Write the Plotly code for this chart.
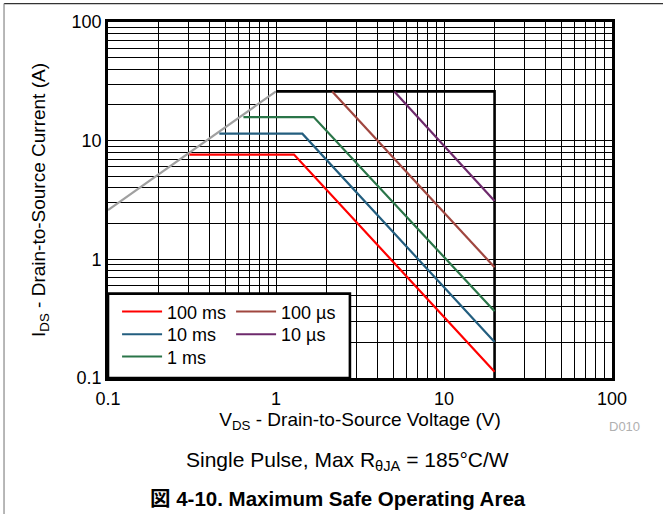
import plotly.graph_objects as go

# ---- data ----
x_tick_vals = [0.1, 1, 10, 100]
x_tick_text = ["0.1", "1", "10", "100"]
y_tick_vals = [0.1, 1, 10, 100]
y_tick_text = ["0.1", "1", "10", "100"]

rds_v = [0.1, 1.0]
rds_i = [2.6, 26.0]

limit_v = [1.0, 20.0, 20.0]
limit_i = [26.0, 26.0, 0.1]

ms100_v = [0.305, 1.28, 20.0]
ms100_i = [7.64, 7.64, 0.113]

ms10_v = [0.46, 1.435, 20.0]
ms10_i = [11.46, 11.46, 0.201]

ms1_v = [0.64, 1.676, 20.0]
ms1_i = [15.8, 15.8, 0.365]

us100_v = [2.16, 20.0]
us100_i = [26.0, 0.857]

us10_v = [5.06, 20.0]
us10_i = [26.0, 3.1]

minor_vals = [k * 10.0 ** d for d in range(-1, 2) for k in range(2, 10)]

FONT = "Liberation Sans, Arial, Noto Sans CJK JP, sans-serif"

fig = go.Figure()

fig.add_trace(go.Scatter(x=rds_v, y=rds_i, mode="lines", showlegend=False,
                         line=dict(color="#a0a0a0", width=2.2)))
fig.add_trace(go.Scatter(x=limit_v, y=limit_i, mode="lines", showlegend=False,
                         line=dict(color="black", width=2.6)))

fig.add_trace(go.Scatter(x=ms100_v, y=ms100_i, mode="lines", name="100 ms", legend="legend",
                         line=dict(color="#ff0000", width=2.2)))
fig.add_trace(go.Scatter(x=us100_v, y=us100_i, mode="lines", name="100 µs", legend="legend",
                         line=dict(color="#a0463f", width=2.2)))
fig.add_trace(go.Scatter(x=ms10_v, y=ms10_i, mode="lines", name="10 ms", legend="legend2",
                         line=dict(color="#235e7f", width=2.2)))
fig.add_trace(go.Scatter(x=us10_v, y=us10_i, mode="lines", name="10 µs", legend="legend2",
                         line=dict(color="#6e2a6c", width=2.2)))
fig.add_trace(go.Scatter(x=ms1_v, y=ms1_i, mode="lines", name="1 ms", legend="legend3",
                         line=dict(color="#2a7548", width=2.2)))

axis_common = dict(
    type="log",
    showline=True, linecolor="black", linewidth=2.6, mirror=True,
    showgrid=True, gridcolor="black", gridwidth=1,
    ticks="", zeroline=False,
    tickfont=dict(family=FONT, size=18, color="black"),
    minor=dict(tickvals=minor_vals, showgrid=True, gridcolor="black", gridwidth=1, ticks=""),
)

fig.update_xaxes(range=[-1, 2], tickvals=x_tick_vals, ticktext=x_tick_text,
                 ticklabelstandoff=3,
                 title=dict(text="V<sub>DS</sub> - Drain-to-Source Voltage (V)",
                            font=dict(family=FONT, size=19, color="black"), standoff=5),
                 **axis_common)
fig.update_yaxes(range=[-1, 2], tickvals=y_tick_vals, ticktext=y_tick_text,
                 title=dict(text="I<sub>DS</sub> - Drain-to-Source Current (A)",
                            font=dict(family=FONT, size=19, color="black"), standoff=21),
                 **axis_common)

shapes = [
    # legend box
    dict(type="rect", xref="paper", yref="paper", x0=0, x1=0.480, y0=0, y1=0.237,
         fillcolor="white", line=dict(color="black", width=2.6), layer="above"),
    # page frame lines
    dict(type="line", xref="paper", yref="paper", x0=-0.2063, x1=1.2, y0=1.0517, y1=1.0517,
         line=dict(color="#333333", width=1.2), layer="above"),
    dict(type="line", xref="paper", yref="paper", x0=-0.2063, x1=-0.2063, y0=1.0517, y1=-0.4,
         line=dict(color="#888888", width=1.2), layer="above"),
]

annotations = [
    dict(text="D010", xref="paper", yref="paper", x=1.024, y=-0.137, showarrow=False,
         xanchor="center", yanchor="middle", font=dict(family=FONT, size=13, color="#b0b0b0")),
    dict(text="Single Pulse, Max R<sub>θJA</sub> = 185°C/W", xref="paper", yref="paper",
         x=0.476, y=-0.232, showarrow=False, xanchor="center", yanchor="middle",
         font=dict(family=FONT, size=21, color="black")),
    dict(text="<b>図 4-10. Maximum Safe Operating Area</b>", xref="paper", yref="paper",
         x=0.456, y=-0.338, showarrow=False, xanchor="center", yanchor="middle",
         font=dict(family=FONT, size=20.5, color="black")),
]

leg_common = dict(orientation="h", x=0.018, xanchor="left", yanchor="middle",
                  bgcolor="rgba(0,0,0,0)", borderwidth=0,
                  entrywidth=59, entrywidthmode="pixels",
                  font=dict(family=FONT, size=18, color="black"), itemwidth=40)

fig.update_layout(
    width=663, height=514,
    margin=dict(l=108, r=51, t=20, b=136),
    paper_bgcolor="white", plot_bgcolor="white",
    shapes=shapes, annotations=annotations,
    showlegend=True,
    legend=dict(y=0.186, **leg_common),
    legend2=dict(y=0.122, **leg_common),
    legend3=dict(y=0.0595, **leg_common),
)

fig.write_html("out.html", config={"displayModeBar": False},
               post_script="document.body.style.margin='0';document.body.style.overflow='hidden';")
